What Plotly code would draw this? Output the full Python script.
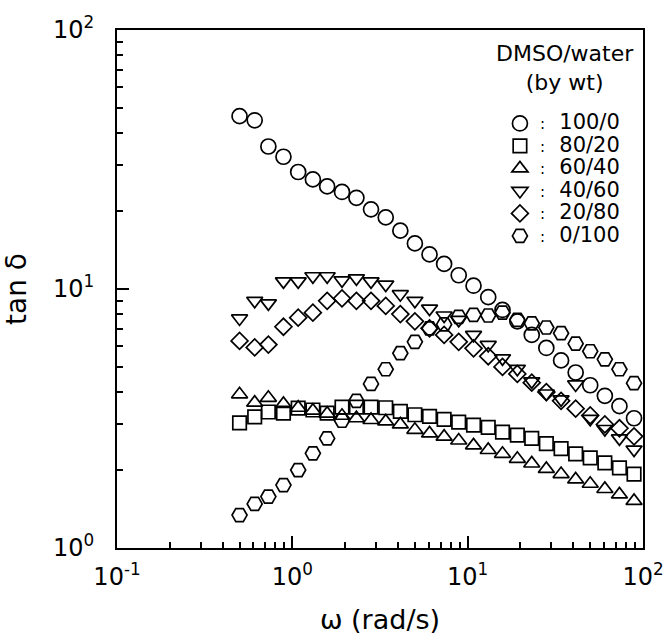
import plotly.graph_objects as go

# angular frequency (rad/s)
omega = [0.50, 0.61, 0.73, 0.89, 1.08, 1.31, 1.58, 1.92, 2.32, 2.81, 3.41, 4.13, 5.00, 6.06,
         7.34, 8.89, 10.8, 13.1, 15.8, 19.2, 23.2, 28.1, 34.1, 41.3, 50.0, 60.6, 73.4, 88.9]

# tan delta for each DMSO/water composition (by wt)
tan_100_0 = [46.5, 44.8, 35.5, 32.4, 28.3, 26.5, 24.9, 23.7, 22.5, 20.3, 18.9, 16.8, 15.0, 13.6,
             12.5, 11.3, 10.3, 9.3, 8.3, 7.5, 6.65, 5.92, 5.30, 4.76, 4.25, 3.87, 3.53, 3.17]
tan_80_20 = [3.04, 3.21, 3.35, 3.32, 3.47, 3.41, 3.32, 3.50, 3.50, 3.50, 3.48, 3.37, 3.27, 3.22,
             3.14, 3.06, 2.98, 2.92, 2.80, 2.73, 2.65, 2.53, 2.42, 2.31, 2.23, 2.13, 2.04, 1.93]
tan_60_40 = [3.92, 3.64, 3.80, 3.60, 3.48, 3.39, 3.30, 3.24, 3.17, 3.12, 3.08, 3.00, 2.86, 2.77,
             2.69, 2.60, 2.49, 2.39, 2.31, 2.21, 2.12, 2.02, 1.93, 1.84, 1.77, 1.69, 1.61, 1.52]
tan_40_60 = [7.7, 9.0, 8.8, 10.7, 10.7, 11.2, 11.2, 10.8, 11.0, 10.7, 10.4, 9.55, 9.0, 8.4,
             7.9, 7.6, 6.65, 6.08, 5.4, 4.92, 4.40, 3.95, 3.75, 4.28, 3.15, 2.88, 2.65, 2.40]
tan_20_80 = [6.3, 5.95, 6.1, 7.15, 7.75, 8.1, 9.0, 9.2, 9.0, 9.0, 8.6, 8.0, 7.5, 7.05,
             6.65, 6.25, 5.9, 5.5, 5.0, 4.7, 4.35, 4.0, 3.7, 3.45, 3.25, 3.0, 2.9, 2.7]
tan_0_100 = [1.34, 1.48, 1.58, 1.75, 2.0, 2.32, 2.65, 3.1, 3.7, 4.3, 4.9, 5.65, 6.25, 7.05,
             7.3, 7.8, 7.95, 7.9, 8.1, 7.6, 7.37, 7.1, 6.75, 6.15, 5.75, 5.35, 4.9, 4.33]

labels = ["100/0", "80/20", "60/40", "40/60", "20/80", "0/100"]
series = [tan_100_0, tan_80_20, tan_60_40, tan_40_60, tan_20_80, tan_0_100]
symbols = ["circle-open", "square-open", "triangle-up-open", "triangle-down-open",
           "diamond-open", "hexagon2-open"]
sizes = [15, 13.5, 14, 14, 13, 15]

x_tickvals = [0.1, 1, 10, 100]
x_ticktext = ["10<sup>-1</sup>", "10<sup>0</sup>", "10<sup>1</sup>", "10<sup>2</sup>"]
y_tickvals = [1, 10, 100]
y_ticktext = ["10<sup>0</sup>", "10<sup>1</sup>", "10<sup>2</sup>"]
x_minor = [0.2, 0.3, 0.4, 0.5, 0.6, 0.7, 0.8, 0.9, 2, 3, 4, 5, 6, 7, 8, 9,
           20, 30, 40, 50, 60, 70, 80, 90]
y_minor = [2, 3, 4, 5, 6, 7, 8, 9, 20, 30, 40, 50, 60, 70, 80, 90]

FONT = "DejaVu Sans"

fig = go.Figure()
for lab, ys, sym, sz in zip(labels, series, symbols, sizes):
    fig.add_trace(go.Scatter(
        x=omega, y=ys, mode="markers",
        name=':\u00a0\u00a0\u00a0<span style="font-size:21px">' + lab + '</span>',
        marker=dict(symbol=sym, size=sz, color="black",
                    line=dict(color="black", width=1.7)),
    ))

axis_common = dict(
    type="log", showgrid=False, zeroline=False, automargin=False,
    showline=True, linecolor="black", linewidth=2, mirror=True,
    ticks="inside", ticklen=12, tickwidth=2, tickcolor="black",
    tickfont=dict(family=FONT, size=24, color="black"),
)

fig.update_xaxes(
    **axis_common, range=[-1, 2],
    tickmode="array", tickvals=x_tickvals, ticktext=x_ticktext,
    minor=dict(tickmode="array", tickvals=x_minor, ticks="inside", ticklen=6,
               tickwidth=1.5, tickcolor="black"),
    ticklabelstandoff=6,
    title=dict(text="\u03c9 (rad/s)", font=dict(family=FONT, size=27, color="black"),
               standoff=20),
)
fig.update_yaxes(
    **axis_common, range=[0, 2],
    tickmode="array", tickvals=y_tickvals, ticktext=y_ticktext,
    minor=dict(tickmode="array", tickvals=y_minor, ticks="inside", ticklen=6,
               tickwidth=1.5, tickcolor="black"),
    ticklabelstandoff=16,
    title=dict(text="tan \u03b4", font=dict(family=FONT, size=28, color="black"),
               standoff=22),
)

fig.update_layout(
    width=667, height=638,
    margin=dict(l=117, r=24, t=30, b=90),
    paper_bgcolor="white", plot_bgcolor="white",
    font=dict(family=FONT, color="black"),
    legend=dict(
        x=0.728, y=0.851, xanchor="left", yanchor="top",
        bgcolor="rgba(0,0,0,0)", borderwidth=0,
        font=dict(family=FONT, size=15, color="black"),
        itemsizing="trace",
    ),
    annotations=[dict(
        text="DMSO/water<br>(by wt)", xref="paper", yref="paper",
        x=0.852, y=0.926, xanchor="center", yanchor="middle", showarrow=False,
        font=dict(family=FONT, size=22, color="black"),
    )],
)

fig.write_html("out.html",
               config={"displayModeBar": False},
               post_script="document.body.style.margin='0';document.body.style.overflow='hidden';")
